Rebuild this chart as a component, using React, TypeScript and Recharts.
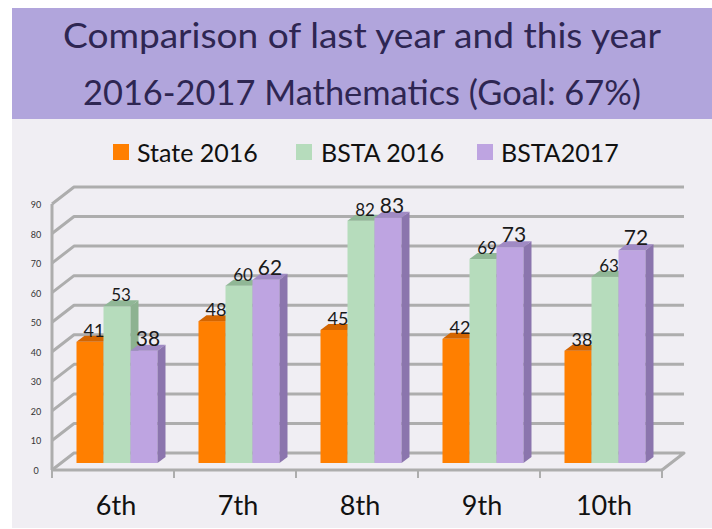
import React from 'react';
import { BarChart, Bar, XAxis, YAxis, CartesianGrid, LabelList } from 'recharts';

const grades = ['6th', '7th', '8th', '9th', '10th'];
const state2016 = [41, 48, 45, 42, 38];
const bsta2016 = [53, 60, 82, 69, 63];
const bsta2017 = [38, 62, 83, 73, 72];
const yTicks = [0, 10, 20, 30, 40, 50, 60, 70, 80, 90];

const series = [
  { key: 'state2016', name: 'State 2016', front: '#ff7f00', top: '#d46500', side: '#c45c00', labelSize: 18 },
  { key: 'bsta2016', name: 'BSTA 2016', front: '#b6dcbc', top: '#90b796', side: '#8db291', labelSize: 17 },
  { key: 'bsta2017', name: 'BSTA2017', front: '#bea4e1', top: '#a08ac4', side: '#8b75ad', labelSize: 21 },
];

const data = grades.map((grade, i) => ({
  grade,
  state2016: state2016[i],
  bsta2016: bsta2016[i],
  bsta2017: bsta2017[i],
}));

const W = 712;
const H = 529;
const FONT = 'Lato, "Open Sans", sans-serif';
const GRID = '#adadad';

// perspective offsets: back wall vs front, bar depth, bar shift to mid depth
const DX = 22;
const DY = 17;
const BD = 8;
const BDY = 6;
const SX = 4;
const SY = 7;

const PLOT_LEFT = 52;
const PLOT_RIGHT = 662;
const BAND = (PLOT_RIGHT - PLOT_LEFT) / grades.length;

const GridLine = (props: any) => {
  const { x1, y1, x2, y, height } = props;
  const floor = Math.abs(y1 - (y + height)) < 0.5;
  const d = `M${x1},${y1} L${x1 + DX},${y1 - DY} L${x2 + DX},${y1 - DY}` + (floor ? ` L${x2},${y1}` : '');
  return <path key={props.key} d={d} fill="none" stroke={GRID} strokeWidth={3} strokeLinejoin="round" />;
};

const makeShape = (s: any) => (props: any) => {
  const { x, y, width, height } = props;
  if (!width || height == null) return null;
  const fx = x + SX;
  const fy = y - SY;
  return (
    <g>
      <rect x={fx} y={fy} width={width} height={height} fill={s.front} />
      <path
        d={`M${fx},${fy} L${fx + BD},${fy - BDY} L${fx + width + BD},${fy - BDY} L${fx + width},${fy} Z`}
        fill={s.top}
      />
      <path
        d={`M${fx + width},${fy} L${fx + width + BD},${fy - BDY} L${fx + width + BD},${fy + height - BDY} L${fx + width},${fy + height} Z`}
        fill={s.side}
      />
    </g>
  );
};

const makeLabel = (s: any) => (props: any) => {
  const { x, y, width, value } = props;
  return (
    <text
      x={x + SX + width / 2 + BD / 2}
      y={y - SY - BDY + 1}
      textAnchor="middle"
      fontFamily={FONT}
      fontSize={s.labelSize}
      fill="#1a1a1a"
    >
      {value}
    </text>
  );
};

const YTick = (props: any) => {
  const { y, payload } = props;
  return (
    <text x={36} y={y + 4} textAnchor="middle" fontFamily={FONT} fontSize={9} fill="#333">
      {payload.value}
    </text>
  );
};

const XTick = (props: any) => {
  const { x, y, payload, index } = props;
  const left = x - BAND / 2;
  const right = x + BAND / 2;
  return (
    <g>
      <line x1={left} y1={y} x2={left} y2={y + 8} stroke={GRID} strokeWidth={2} />
      {index === grades.length - 1 && <line x1={right} y1={y} x2={right} y2={y + 8} stroke={GRID} strokeWidth={2} />}
      <text x={x + 3} y={y + 45} textAnchor="middle" fontFamily={FONT} fontSize={27} fill="#111">
        {payload.value}
      </text>
    </g>
  );
};

const legendPos = [
  { sq: 113, tx: 137 },
  { sq: 296, tx: 321 },
  { sq: 477, tx: 501 },
];

export default function App() {
  return (
    <div style={{ position: 'absolute', left: 0, top: 0, width: W, height: H, background: '#fff' }}>
      <div style={{ position: 'absolute', left: 12, top: 8, width: 700, height: 111, background: '#b1a5dc' }} />
      <div style={{ position: 'absolute', left: 12, top: 119, width: 700, height: 409, background: '#f0eef3' }} />
      <svg style={{ position: 'absolute', left: 0, top: 0 }} width={W} height={H}>
        <text x={362} y={48} textAnchor="middle" fontFamily={FONT} fontSize={34} fill="#2e2652"
          textLength={598} lengthAdjust="spacingAndGlyphs">
          Comparison of last year and this year
        </text>
        <text x={362} y={105} textAnchor="middle" fontFamily={FONT} fontSize={34} fill="#2e2652"
          textLength={558} lengthAdjust="spacingAndGlyphs">
          2016-2017 Mathematics (Goal: 67%)
        </text>
        {series.map((s, i) => (
          <g key={s.key}>
            <rect x={legendPos[i].sq} y={144} width={16} height={16} fill={s.front} />
            <text x={legendPos[i].tx} y={162} fontFamily={FONT} fontSize={25} fill="#111">
              {s.name}
            </text>
          </g>
        ))}
      </svg>
      <div style={{ position: 'absolute', left: 0, top: 0 }}>
        <BarChart
          width={W}
          height={H}
          data={data}
          margin={{ top: 204, right: W - PLOT_RIGHT, bottom: 0, left: 0 }}
          barCategoryGap="16.8%"
          barGap={0}
        >
          <CartesianGrid vertical={false} horizontal={GridLine} />
          <YAxis
            width={PLOT_LEFT}
            domain={[0, 90]}
            ticks={yTicks}
            interval={0}
            axisLine={{ stroke: GRID, strokeWidth: 3 }}
            tickLine={false}
            tick={YTick}
          />
          <XAxis
            dataKey="grade"
            height={59}
            axisLine={{ stroke: GRID, strokeWidth: 3 }}
            tickLine={false}
            tickSize={0}
            tickMargin={0}
            tick={XTick}
          />
          {series.map((s) => (
            <Bar key={s.key} dataKey={s.key} name={s.name} shape={makeShape(s)} isAnimationActive={false}>
              <LabelList dataKey={s.key} content={makeLabel(s)} />
            </Bar>
          ))}
        </BarChart>
      </div>
    </div>
  );
}
